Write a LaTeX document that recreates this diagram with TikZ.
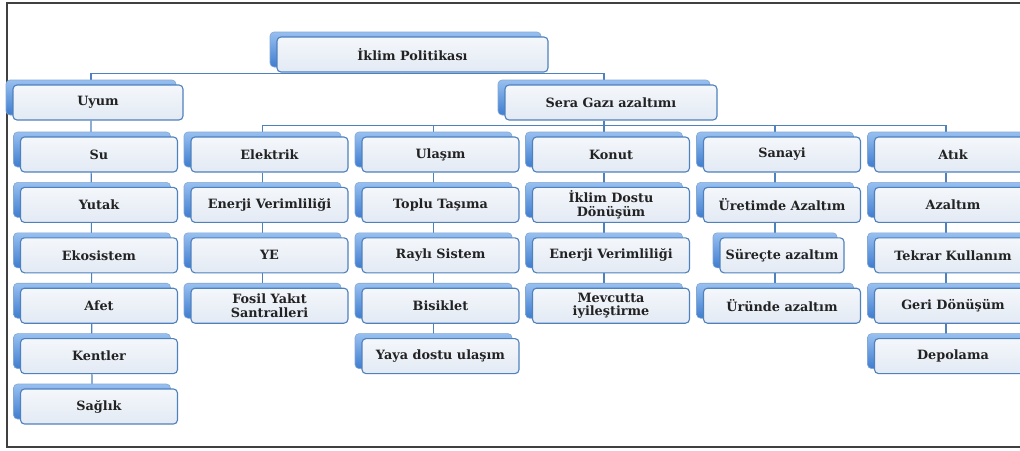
\documentclass[tikz,border=0pt]{standalone}
\usepackage{fontspec}
\setmainfont{DejaVu Serif}
\usepackage{tikz}
\usepackage{xcolor}
\usetikzlibrary{shadows}
\usetikzlibrary{backgrounds}
\definecolor{kenar}{HTML}{4F81BD}
\definecolor{onust}{HTML}{F4F7FB}
\definecolor{onalt}{HTML}{E3EAF4}
\definecolor{arkaust}{HTML}{98C0F0}
\definecolor{arkaalt}{HTML}{3F7DD0}
\definecolor{yazi}{HTML}{222222}
\begin{document}
\begin{tikzpicture}[x=1pt,y=-1pt,
                    kutu/.style={draw=kenar,line width=1.1pt,rounded corners=4pt,
                        top color=onust,bottom color=onalt,
                        minimum width=157pt,minimum height=35pt,inner sep=1pt,
                        align=center,text=yazi,font=\bfseries\fontsize{12.8}{13.5}\selectfont,
                        general shadow={shadow xshift=-7pt,shadow yshift=5pt,
                            top color=arkaust,bottom color=arkaalt,draw=kenar!70,line width=0.6pt}},
                    bag/.style={draw=kenar,line width=1.1pt}]
                    \useasboundingbox(0,0)rectangle(1020,450);
                    \clip(0,0)rectangle(1020,450);
                    \draw[line width=1.3pt,black!75](7,3)rectangle(1040,447);
                    \node[kutu,minimum width=271pt](pol) at (412.5,54.5){İklim Politikası};
                    \node[kutu,minimum width=170pt](uyum) at (98,102.5){Uyum};
                    \node[kutu,minimum width=212pt](sera) at (611,102.5){Sera Gazı azaltımı};
                    \node[kutu](su) at (99,154.5){Su};
                    \node[kutu](yutak) at (99,204.9){Yutak};
                    \node[kutu](ekosistem) at (99,255.3){Ekosistem};
                    \node[kutu](afet) at (99,305.7){Afet};
                    \node[kutu](kentler) at (99,356.1){Kentler};
                    \node[kutu](saglik) at (99,406.5){Sağlık};
                    \node[kutu](elektrik) at (269.5,154.5){Elektrik};
                    \node[kutu](enerji) at (269.5,204.9){Enerji Verimliliği};
                    \node[kutu](ye) at (269.5,255.3){YE};
                    \node[kutu](fosil) at (269.5,305.7){Fosil Yakıt\\Santralleri};
                    \node[kutu](ulasim) at (440.5,154.5){Ulaşım};
                    \node[kutu](toplu) at (440.5,204.9){Toplu Taşıma};
                    \node[kutu](rayli) at (440.5,255.3){Raylı Sistem};
                    \node[kutu](bisiklet) at (440.5,305.7){Bisiklet};
                    \node[kutu](yaya) at (440.5,356.1){Yaya dostu ulaşım};
                    \node[kutu](konut) at (611,154.5){Konut};
                    \node[kutu](donusum) at (611,204.9){İklim Dostu\\Dönüşüm};
                    \node[kutu](verim) at (611,255.3){Enerji Verimliliği};
                    \node[kutu](mevcut) at (611,305.7){Mevcutta\\iyileştirme};
                    \node[kutu](sanayi) at (782,154.5){Sanayi};
                    \node[kutu](uretim) at (782,204.9){Üretimde Azaltım};
                    \node[kutu,minimum width=124pt](surec) at (782,255.3){Süreçte azaltım};
                    \node[kutu](urun) at (782,305.7){Üründe azaltım};
                    \node[kutu](atik) at (953,154.5){Atık};
                    \node[kutu](azaltim) at (953,204.9){Azaltım};
                    \node[kutu](tekrar) at (953,255.3){Tekrar Kullanım};
                    \node[kutu](geri) at (953,305.7){Geri Dönüşüm};
                    \node[kutu](depolama) at (953,356.1){Depolama};
                    \begin{scope}[on background layer]
                    \draw[bag]([xshift=-7pt]pol.south)--++(0,1)-|([xshift=-7pt]uyum.north);
                    \draw[bag]([xshift=-7pt]pol.south)--++(0,1)-|([xshift=-7pt]sera.north);
                    \draw[bag]([xshift=-7pt]sera.south)--++(0,5)-|([xshift=-7pt]elektrik.north);
                    \draw[bag]([xshift=-7pt]sera.south)--++(0,5)-|([xshift=-7pt]ulasim.north);
                    \draw[bag]([xshift=-7pt]sera.south)--++(0,5)-|([xshift=-7pt]konut.north);
                    \draw[bag]([xshift=-7pt]sera.south)--++(0,5)-|([xshift=-7pt]sanayi.north);
                    \draw[bag]([xshift=-7pt]sera.south)--++(0,5)-|([xshift=-7pt]atik.north);
                    \draw[bag]([xshift=-7pt]uyum.south)--([xshift=-7pt]saglik.north);
                    \draw[bag]([xshift=-7pt]elektrik.south)--([xshift=-7pt]fosil.north);
                    \draw[bag]([xshift=-7pt]ulasim.south)--([xshift=-7pt]yaya.north);
                    \draw[bag]([xshift=-7pt]konut.south)--([xshift=-7pt]mevcut.north);
                    \draw[bag]([xshift=-7pt]sanayi.south)--([xshift=-7pt]urun.north);
                    \draw[bag]([xshift=-7pt]atik.south)--([xshift=-7pt]depolama.north);
                    \end{scope}
                \end{tikzpicture}
\end{document}
